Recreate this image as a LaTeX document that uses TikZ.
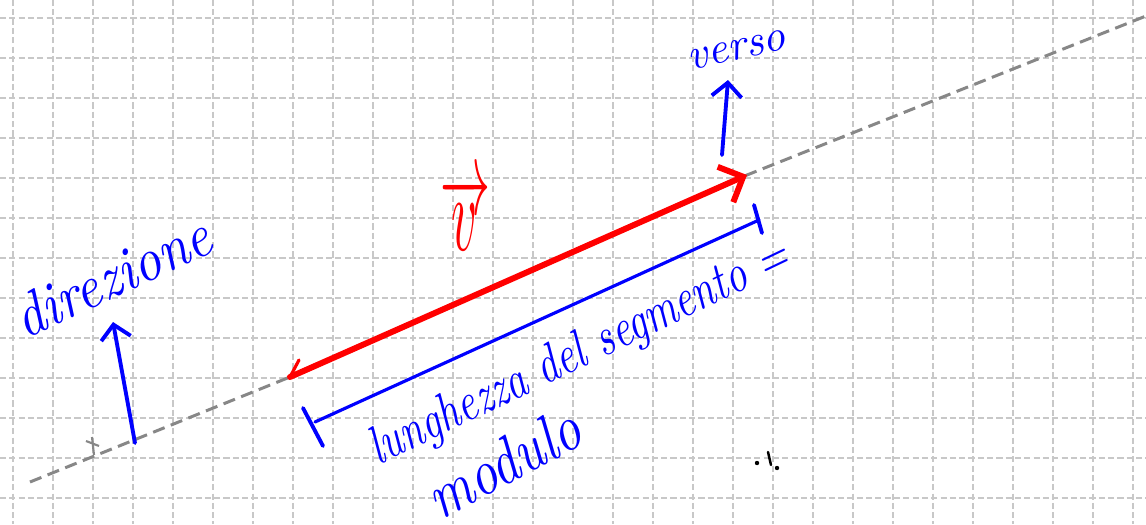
\documentclass[tikz,border=0pt]{standalone}
\usetikzlibrary{arrows.meta}
\definecolor{inkblue}{RGB}{0,0,255}
\definecolor{inkred}{RGB}{255,0,0}
\definecolor{gridgray}{RGB}{200,200,200}
\definecolor{lineg}{RGB}{135,135,135}
\begin{document}
\begin{tikzpicture}[x=0.02cm,y=-0.02cm,
 gridline/.style={gridgray, line width=0.8pt, dash pattern=on 3.5pt off 1.8pt},
 axisline/.style={lineg, line width=1.7pt, dash pattern=on 7pt off 3.8pt},
 bluepen/.style={inkblue, line width=2.2pt, line cap=round, line join=round},
 redpen/.style={inkred, line width=3.4pt, line cap=round},
 hand/.style={inkblue, font=\itshape, inner sep=0pt, anchor=center},
 barb/.style={-{Straight Barb[length=8pt,width=17pt]}},
]
\useasboundingbox (0,0) rectangle (1146,524);
\fill[white] (0,0) rectangle (1146,524);
\foreach \x in {13,53,...,1133} \draw[gridline] (\x,0) -- (\x,524);
\foreach \y in {18,58,...,498} \draw[gridline] (0,\y) -- (1146,\y);

% direction line
\coordinate (L0) at (30,482);
\coordinate (A) at (290,377);
\coordinate (B) at (747,175);
\coordinate (L1) at (1146,16);
\draw[axisline] (L0) -- (A) -- (B) -- (L1);
% small gray mark on the line
\coordinate (m0) at (86,441); \coordinate (m1) at (99,446);
\coordinate (m2) at (92,437); \coordinate (m3) at (94,455);
\draw[lineg, line width=1.2pt] (m0) -- (m1) (m2) -- (m3);

% red vector
\draw[redpen, -{Straight Barb[length=11pt,width=22pt]}] (A) -- (B);
\coordinate (t0) at (299,360);
\draw[redpen, line width=1.8pt] (t0) -- (A);
\node[inkred, inner sep=0pt] (vlab) at (465,213) {\resizebox{1cm}{1.5cm}{$\overrightarrow{v}$}};

% direzione
\coordinate (d0) at (135,443);
\coordinate (d1) at (113,322);
\draw[bluepen, barb] (d0) -- (d1);
\node[hand, rotate=25] (dir) at (112,276) {\resizebox{4.2cm}{0.85cm}{direzione}};

% verso
\coordinate (v0) at (722,155);
\coordinate (v1) at (728,80);
\draw[bluepen, barb] (v0) -- (v1);
\node[hand, rotate=13] (ver) at (737,50) {\resizebox{2cm}{!}{verso}};

% length bracket
\coordinate (br0) at (315,422);
\coordinate (br1) at (759,220);
\coordinate (e0) at (303,408); \coordinate (e1) at (323,446);
\coordinate (f0) at (754,205); \coordinate (f1) at (762,233);
\draw[bluepen, line width=1.8pt] (br0) -- (br1);
\draw[bluepen] (e0) -- (e1) (f0) -- (f1);
\node[hand, rotate=25.6] (lun) at (580,354) {\resizebox{9.2cm}{0.75cm}{lunghezza del segmento =}};
\node[hand, rotate=28] (mod) at (503,462) {\resizebox{3.3cm}{0.9cm}{modulo}};

% small black marks
\fill (757,463) circle (2.2);
\coordinate (k0) at (768,452); \coordinate (k1) at (771,465);
\draw[line width=1.4pt, line cap=round] (k0) -- (k1);
\fill (777,468) circle (2.2);
\end{tikzpicture}
\end{document}
